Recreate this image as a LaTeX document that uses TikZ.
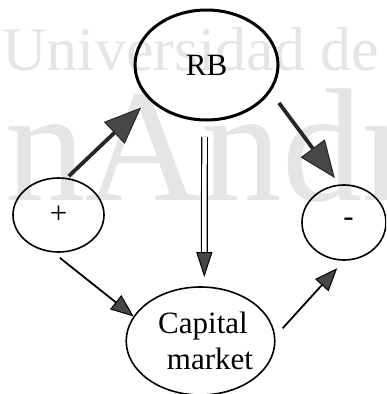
\documentclass[tikz,border=0pt]{standalone}
\usepackage{fontspec}
\setmainfont{Liberation Serif}
\usetikzlibrary{arrows.meta,shapes}

\begin{document}
\begin{tikzpicture}[x=1pt,y=1pt,
	ell/.style={draw,ellipse,inner sep=0pt,outer sep=0pt,line width=1.6pt,font=\fontsize{31}{36}\selectfont},
	wmark/.style={anchor=base west,inner sep=0pt,text=black!10},
	thickarr/.style={line width=3.8pt,draw=black!85,-{Triangle[length=37pt,width=30pt,fill=black!72,line width=1pt]}},
	thinarr/.style={line width=1.8pt,-{Triangle[length=23pt,width=18pt,fill=black!72,line width=1pt]}}]
	\useasboundingbox (0,0) rectangle (386,-394);
	\clip (0,0) rectangle (386,-394);
	\node[wmark,font=\fontsize{62}{62}\selectfont] (wmtop) at (2,-70) {Universidad de};
	\node[wmark,font=\fontsize{161}{161}\selectfont] (wmbig) at (5,-200) {nAndr};
	\node[ell,line width=3pt,minimum width=143pt,minimum height=110pt] (rb) at (206.5,-65) {RB};
	\node[ell,minimum width=91pt,minimum height=74pt] (plus) at (58.5,-215) {+};
	\node[ell,minimum width=84pt,minimum height=75pt] (minus) at (344,-222.5) {\hspace*{9pt}-};
	\node[ell,minimum width=145pt,minimum height=108pt,align=center] (cap) at (200.5,-341) {\hspace*{5pt}Capital\\\hspace*{19pt}market};
	\draw[thickarr,shorten <=3.5pt,shorten >=12.5pt] (plus.78) -- (rb.211);
	\draw[thickarr,shorten <=15.4pt,shorten >=8.9pt] (rb.338) -- (minus.96);
	\draw[double,double distance=4.5pt,line width=1.2pt,-{Triangle[length=25pt,width=16pt,fill=black!72,line width=1pt]},shorten <=17pt,shorten >=10pt] (rb.268) -- (cap.86);
	\draw[thinarr,shorten <=10pt,shorten >=0.5pt] (plus.260) -- (cap.160);
	\draw[thinarr,shorten <=12pt,shorten >=11pt] (cap.3) -- (minus.271);
\end{tikzpicture}
\end{document}
